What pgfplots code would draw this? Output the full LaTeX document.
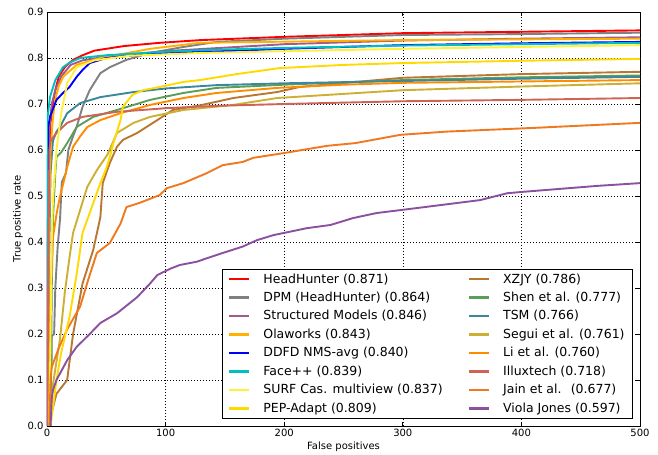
\documentclass[border=0pt]{standalone}
\usepackage{pgfplots}
\pgfplotsset{compat=1.18}
\usepackage{fontspec}
\setmainfont{DejaVu Sans}
\definecolor{cHH}{RGB}{255,0,0}
\definecolor{cDPM}{RGB}{128,128,128}
\definecolor{cSM}{RGB}{160,90,140}
\definecolor{cOla}{RGB}{255,176,0}
\definecolor{cDDFD}{RGB}{0,0,255}
\definecolor{cFace}{RGB}{0,191,191}
\definecolor{cSURF}{RGB}{255,240,60}
\definecolor{cPEP}{RGB}{255,218,0}
\definecolor{cXZJY}{RGB}{184,120,50}
\definecolor{cShen}{RGB}{90,158,90}
\definecolor{cTSM}{RGB}{60,135,155}
\definecolor{cSegui}{RGB}{205,175,50}
\definecolor{cLi}{RGB}{255,140,0}
\definecolor{cIllux}{RGB}{205,100,85}
\definecolor{cJain}{RGB}{240,120,30}
\definecolor{cViola}{RGB}{140,80,160}
\begin{document}
\begin{tikzpicture}
\useasboundingbox (-47bp,-29bp) rectangle (611bp,426bp);
\begin{axis}[
  scale only axis, width=593bp, height=414bp,
  at={(0,0)}, anchor=south west,
  xmin=0, xmax=500, ymin=0, ymax=0.9,
  xtick={0,100,200,300,400,500},
  ytick={0,0.1,0.2,0.3,0.4,0.5,0.6,0.7,0.8,0.9},
  yticklabel style={/pgf/number format/fixed,/pgf/number format/fixed zerofill,/pgf/number format/precision=1},
  /pgf/number format/assume math mode=true,
  tick label style={font=\fontsize{10bp}{12bp}\selectfont},
  label style={font=\fontsize{10bp}{12bp}\selectfont},
  xlabel={False positives}, ylabel={True positive rate},
  xlabel style={yshift=2bp}, ylabel style={yshift=-2bp},
  grid=major, grid style={black, line width=0.6bp, dash pattern=on 1bp off 2bp},
  axis line style={black, line width=0.9bp},
  tick style={black, line width=0.7bp}, major tick length=4bp,
  tick align=inside,
  every axis plot/.append style={line width=1.9bp, line join=round},
  legend columns=2,
  legend cell align=left,
  legend style={at={(0.988,0.019)}, anchor=south east, draw=black, line width=0.6bp,
    fill=white, inner xsep=6bp, inner ysep=2bp,
    font=\fontsize{12.5bp}{15bp}\selectfont, row sep=3.5bp,
    /tikz/every odd column/.append style={column sep=11bp},
    /tikz/every even column/.append style={column sep=23bp}},
  legend image code/.code={\draw[#1, line width=2.4bp] (0bp,0bp) -- (20bp,0bp);},
]
% HeadHunter
\addplot[cHH] coordinates {(0,0) (0.5,0.3) (1,0.55) (2,0.6) (3,0.66) (5,0.7) (7,0.73) (10,0.76) (15,0.78) (22,0.796) (30,0.806) (40,0.816) (50,0.82) (65,0.826) (95,0.833) (130,0.839) (200,0.846) (300,0.854) (400,0.857) (500,0.86)};
\addlegendentry{HeadHunter (0.871)}
% XZJY
\addplot[cXZJY] coordinates {(2,0) (4,0.03) (8,0.07) (17,0.1) (22,0.2) (30,0.31) (39,0.383) (45,0.454) (47,0.528) (53,0.572) (59,0.607) (64,0.622) (76,0.637) (93,0.665) (106,0.687) (129,0.697) (157,0.713) (194,0.726) (213,0.737) (300,0.757) (400,0.765) (500,0.77)};
\addlegendentry{XZJY (0.786)}
% DPM
\addplot[cDPM] coordinates {(2.5,0) (2.5,0.137) (4,0.14) (4,0.195) (6,0.2) (7,0.3) (9,0.39) (11,0.45) (12.5,0.53) (16,0.55) (18,0.6) (22,0.63) (25,0.65) (30,0.694) (36,0.73) (45,0.767) (53,0.78) (67,0.796) (87,0.811) (115,0.824) (143,0.835) (200,0.842) (300,0.85) (400,0.852) (500,0.855)};
\addlegendentry{DPM (HeadHunter) (0.864)}
% Shen
\addplot[cShen] coordinates {(3,0) (4,0.3) (5,0.45) (7,0.55) (8,0.585) (12,0.595) (17,0.615) (25,0.65) (39,0.672) (59,0.687) (87,0.709) (115,0.724) (143,0.735) (200,0.742) (300,0.752) (400,0.758) (500,0.762)};
\addlegendentry{Shen et al. (0.777)}
% Structured Models
\addplot[cSM] coordinates {(0,0) (1,0.5) (2,0.65) (4,0.7) (7,0.73) (12,0.76) (20,0.785) (30,0.795) (50,0.803) (100,0.815) (200,0.83) (300,0.838) (400,0.842) (500,0.845)};
\addlegendentry{Structured Models (0.846)}
% TSM
\addplot[cTSM] coordinates {(1,0) (2,0.4) (3,0.55) (5,0.62) (8,0.64) (11,0.65) (17,0.68) (28,0.702) (45,0.715) (73,0.726) (101,0.734) (143,0.741) (200,0.745) (300,0.75) (400,0.755) (500,0.759)};
\addlegendentry{TSM (0.766)}
% Olaworks
\addplot[cOla] coordinates {(1,0) (1.5,0.4) (3,0.6) (5,0.67) (7,0.71) (10,0.74) (14,0.76) (25,0.785) (45,0.8) (87,0.82) (129,0.833) (300,0.839) (500,0.842)};
\addlegendentry{Olaworks (0.843)}
% Segui
\addplot[cSegui] coordinates {(2,0) (5,0.09) (11,0.19) (15,0.29) (19,0.367) (22,0.42) (28,0.47) (34,0.52) (42,0.556) (51,0.59) (59,0.637) (73,0.659) (87,0.672) (115,0.687) (157,0.698) (194,0.713) (300,0.73) (400,0.738) (500,0.745)};
\addlegendentry{Segui et al. (0.761)}
% DDFD
\addplot[cDDFD] coordinates {(0.5,0) (0.5,0.5) (1,0.65) (2.5,0.672) (8,0.709) (13.5,0.724) (19,0.737) (25,0.759) (30,0.774) (36,0.789) (50,0.8) (78,0.807) (95,0.811) (129,0.813) (200,0.82) (300,0.828) (400,0.832) (500,0.835)};
\addlegendentry{DDFD NMS-avg (0.840)}
% Li
\addplot[cLi] coordinates {(1,0) (2,0.2) (4,0.35) (5,0.41) (8,0.46) (11,0.5) (14,0.53) (17,0.563) (22,0.607) (28,0.63) (34,0.65) (45,0.665) (62,0.68) (87,0.698) (115,0.713) (143,0.724) (194,0.735) (250,0.742) (300,0.746) (400,0.749) (500,0.752)};
\addlegendentry{Li et al. (0.760)}
% Face++
\addplot[cFace] coordinates {(0,0) (0,0.66) (2.5,0.715) (7,0.752) (13.5,0.78) (19,0.79) (28,0.8) (50,0.806) (95,0.813) (129,0.817) (200,0.822) (300,0.827) (400,0.83) (500,0.833)};
\addlegendentry{Face++ (0.839)}
% Illuxtech
\addplot[cIllux] coordinates {(0,0) (1,0.3) (2,0.6) (3,0.62) (8,0.637) (17,0.659) (30,0.672) (59,0.683) (101,0.691) (143,0.696) (200,0.7) (300,0.706) (400,0.709) (500,0.713)};
\addlegendentry{Illuxtech (0.718)}
% SURF
\addplot[cSURF] coordinates {(2,0) (3,0.2) (4,0.4) (5,0.49) (8,0.6) (12,0.68) (17,0.745) (25,0.78) (40,0.795) (70,0.805) (129,0.811) (300,0.82) (500,0.828)};
\addlegendentry{SURF Cas. multiview (0.837)}
% Jain
\addplot[cJain] coordinates {(2,0) (3,0.1) (4,0.128) (10,0.17) (17,0.21) (28,0.26) (35,0.32) (42,0.376) (53,0.398) (62,0.44) (67,0.476) (78,0.485) (95,0.502) (101,0.517) (115,0.528) (135,0.55) (148,0.567) (165,0.574) (174,0.583) (199,0.593) (236,0.609) (260,0.615) (298,0.633) (337,0.64) (410,0.648) (500,0.659)};
\addlegendentry{Jain et al.~ (0.677)}
% PEP-Adapt
\addplot[cPEP] coordinates {(3,0) (5,0.04) (8,0.1) (12,0.16) (19,0.237) (25,0.33) (30,0.42) (36,0.463) (45,0.528) (50,0.56) (53,0.585) (56,0.615) (62,0.665) (64,0.694) (72,0.72) (81,0.73) (95,0.737) (115,0.748) (129,0.752) (160,0.765) (196,0.778) (250,0.785) (300,0.789) (400,0.794) (500,0.798)};
\addlegendentry{PEP-Adapt (0.809)}
% Viola Jones
\addplot[cViola] coordinates {(3,0) (4,0.06) (5,0.078) (8,0.1) (17,0.143) (25,0.172) (36,0.2) (45,0.224) (59,0.245) (76,0.28) (87,0.31) (93,0.328) (104,0.342) (112,0.35) (126,0.357) (148,0.376) (165,0.39) (177,0.404) (191,0.415) (219,0.43) (239,0.437) (258,0.452) (278,0.463) (300,0.47) (365,0.491) (388,0.506) (401,0.509) (464,0.522) (500,0.528)};
\addlegendentry{Viola Jones (0.597)}
\end{axis}
\end{tikzpicture}
\end{document}
